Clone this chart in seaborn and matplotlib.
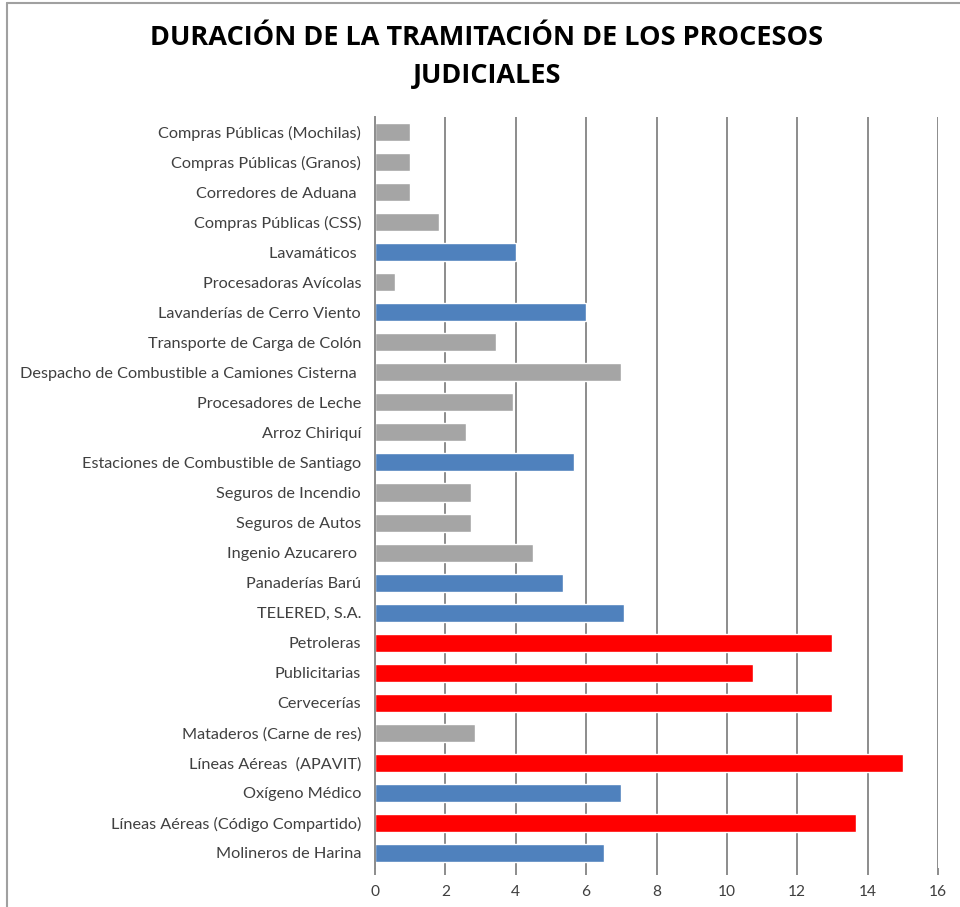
import matplotlib
matplotlib.use("Agg")
import matplotlib.pyplot as plt
import seaborn as sns
import pandas as pd
from matplotlib.lines import Line2D

categories = [
    "Compras Públicas (Mochilas)",
    "Compras Públicas (Granos)",
    "Corredores de Aduana ",
    "Compras Públicas (CSS)",
    "Lavamáticos ",
    "Procesadoras Avícolas",
    "Lavanderías de Cerro Viento",
    "Transporte de Carga de Colón",
    "Despacho de Combustible a Camiones Cisterna ",
    "Procesadores de Leche",
    "Arroz Chiriquí",
    "Estaciones de Combustible de Santiago",
    "Seguros de Incendio",
    "Seguros de Autos",
    "Ingenio Azucarero ",
    "Panaderías Barú",
    "TELERED, S.A.",
    "Petroleras",
    "Publicitarias",
    "Cervecerías",
    "Mataderos (Carne de res)",
    "Líneas Aéreas  (APAVIT)",
    "Oxígeno Médico",
    "Líneas Aéreas (Código Compartido)",
    "Molineros de Harina",
]
values = [1.0, 1.0, 1.0, 1.83, 4.0, 0.57, 6.0, 3.43, 7.0, 3.93, 2.6, 5.66,
          2.74, 2.74, 4.5, 5.33, 7.08, 13.0, 10.75, 13.0, 2.85, 15.0, 7.0,
          13.66, 6.5]
groups = ["g", "g", "g", "g", "b", "g", "b", "g", "g", "g", "g", "b",
          "g", "g", "g", "b", "b", "r", "r", "r", "g", "r", "b", "r", "b"]
x_ticks = [0, 2, 4, 6, 8, 10, 12, 14, 16]
title = "DURACIÓN DE LA TRAMITACIÓN DE LOS PROCESOS\nJUDICIALES"

palette = {"g": "#A5A5A5", "b": "#4F81BD", "r": "#FF0000"}

df = pd.DataFrame({"cat": categories, "val": values, "grp": groups})

sns.set_theme(style="white")
plt.rcParams["font.family"] = ["Lato", "DejaVu Sans"]

fig = plt.figure(figsize=(9.6, 9.07), dpi=100)
ax = fig.add_axes([375 / 960, 1 - 868 / 907, (938 - 375) / 960, (868 - 117) / 907])

sns.barplot(data=df, x="val", y="cat", hue="grp", palette=palette,
            order=categories, dodge=False, width=0.6, legend=False,
            ax=ax, zorder=3, saturation=1)

ax.set_xlim(0, 16)
ax.set_xticks(x_ticks)
ax.set_xticklabels([str(t) for t in x_ticks])
ax.set_xlabel("")
ax.set_ylabel("")
ax.grid(axis="x", color="#8C8C8C", linewidth=1.4, zorder=0)
ax.grid(axis="y", visible=False)
for s in ["top", "right", "bottom"]:
    ax.spines[s].set_visible(False)
ax.spines["left"].set_color("#8C8C8C")
ax.spines["left"].set_linewidth(1.4)
ax.spines["left"].set_zorder(4)
ax.tick_params(axis="x", bottom=True, length=5, width=1.4, color="#8C8C8C",
               labelsize=11.2, labelcolor="#404040", pad=7)
ax.tick_params(axis="y", left=False, labelsize=11.7, labelcolor="#404040", pad=4)

fig.text(0.507, 1 - 57 / 907, title, ha="center", va="center",
         fontsize=19.5, fontweight="bold", color="black",
         family=["Open Sans", "DejaVu Sans"], linespacing=1.6)

# chart area border (top and left edges visible)
fig.add_artist(Line2D([7 / 960, 7 / 960], [0, 1 - 3 / 907], color="#A0A0A0", linewidth=1.5,
                      transform=fig.transFigure))
fig.add_artist(Line2D([7 / 960, 1], [1 - 3 / 907, 1 - 3 / 907], color="#A0A0A0", linewidth=1.5,
                      transform=fig.transFigure))

fig.savefig("out.png", dpi=100)
